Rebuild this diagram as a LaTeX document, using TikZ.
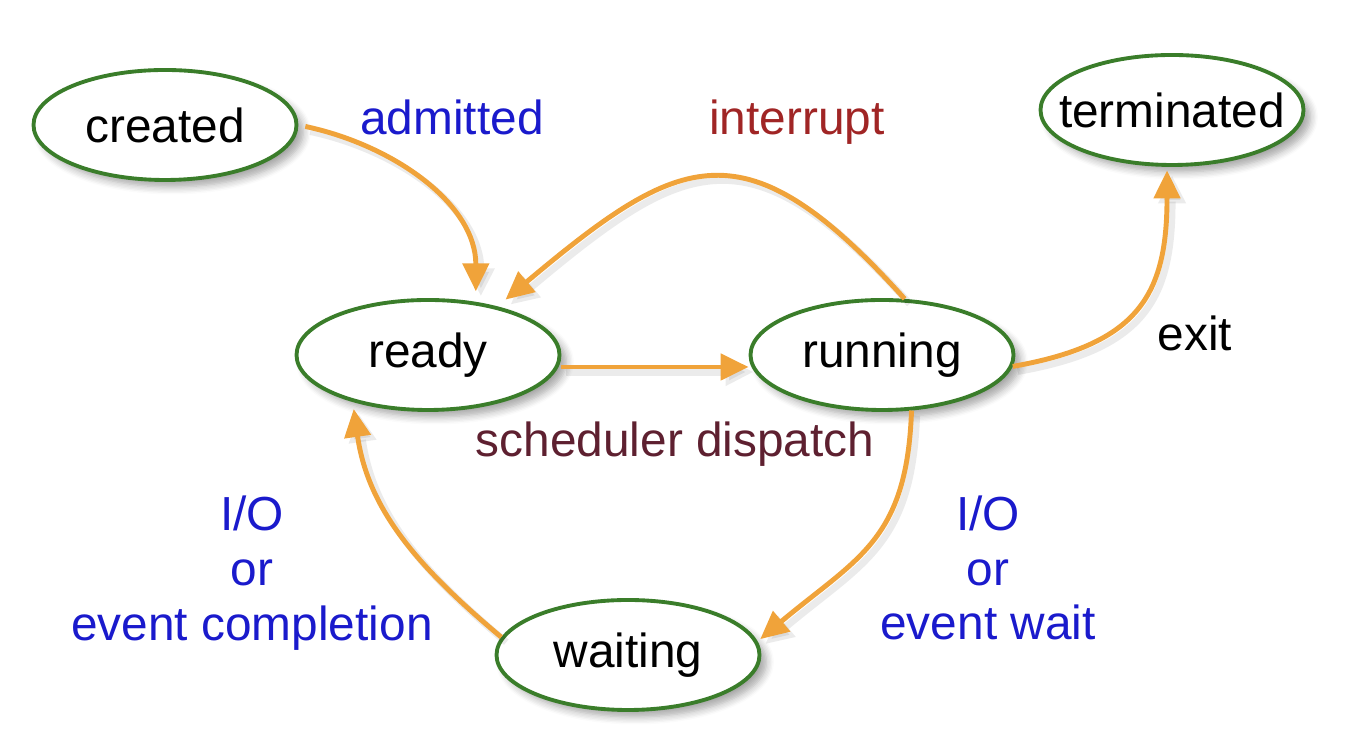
\documentclass[tikz,border=0pt]{standalone}
\usepackage{fontspec}
\setmainfont{Liberation Sans}
\usetikzlibrary{shapes,arrows.meta,positioning,shadows.blur}
\definecolor{arrowc}{HTML}{F0A33A}
\definecolor{stategreen}{HTML}{3A7D2A}
\definecolor{lblblue}{HTML}{1A1ACC}
\definecolor{lblred}{HTML}{A02525}
\definecolor{lblmaroon}{HTML}{5E2030}

\begin{document}
\begin{tikzpicture}[
	%	style def
    state/.style={ellipse, draw=stategreen, line width=1.1pt, fill=white,
        minimum width=2.63cm, minimum height=1.1cm, inner xsep=-0.2cm,
        blur shadow={shadow xshift=0.7mm, shadow yshift=-0.7mm, shadow blur steps=6, shadow opacity=35}},
    flow/.style={draw=arrowc, line width=1.4pt, -{Triangle[length=0.28cm,width=0.26cm]},
        preaction={draw=black, line width=2pt, opacity=0.08, transform canvas={shift={(0.5mm,-0.5mm)}}}},
    lbl/.style={align=center},
    every node/.style={font=\fontsize{13.6}{15.6}\selectfont}
    ]
    \useasboundingbox (0,0) rectangle (13.6,7.54);

	% states
    \node[state] (created) at (1.65,6.29) {created};
    \node[state] (terminated) at (11.72,6.44) {terminated};
    \node[state] (ready) at (4.28,3.99) {ready};
    \node[state] (running) at (8.82,3.99) {running};
    \node[state] (waiting) at (6.28,0.99) {waiting};

	% transitions
    \draw[flow, shorten <=2pt, shorten >=3pt] (created.east) to[out=-12, in=90] (ready.48);
    \draw[flow, shorten >=3pt] (running.68) to[out=132, in=40, looseness=1.5] (ready.35);
    \draw[flow] ([yshift=-0.12cm]ready.east) -- ([yshift=-0.12cm]running.west);
    \draw[flow, shorten >=1pt] (running.-5) to[out=10, in=-90, looseness=1.3] (terminated.265);
    \draw[flow, shorten >=1pt] (running.-62) to[out=-92, in=40, looseness=1.2] (waiting.6);
    \draw[flow, shorten >=2pt] (waiting.172) to[out=140, in=-82] (ready.212);

	% labels
    \node[lbl, text=lblblue] (admitted) at (4.52,6.37) {admitted};
    \node[lbl, text=lblred] (interrupt) at (7.97,6.32) {interrupt};
    \node[lbl] (exit) at (11.95,4.21) {exit};
    \node[lbl, text=lblmaroon] (dispatch) at (6.75,3.10) {scheduler dispatch};
    \node[lbl, text=lblblue] (iodone) at (2.52,1.81) {I/O\\or\\event completion};
    \node[lbl, text=lblblue] (iowait) at (9.88,1.86) {I/O\\or\\event wait};
\end{tikzpicture}
\end{document}
